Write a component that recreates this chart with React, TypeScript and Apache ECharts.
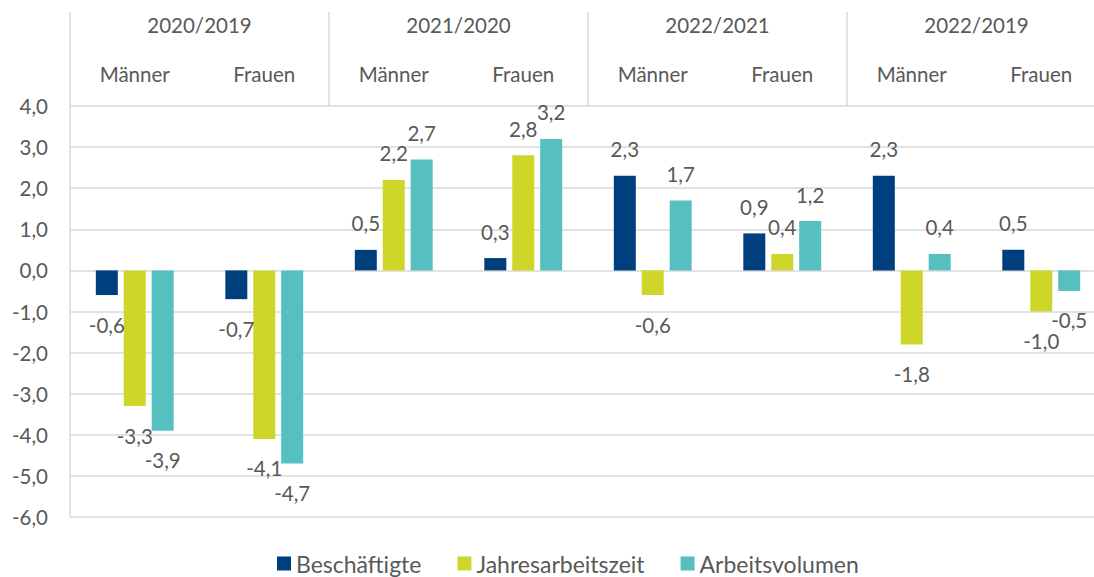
import React, { useEffect, useRef } from "react";
import * as echarts from "echarts";

const groups = ["2020/2019", "2021/2020", "2022/2021", "2022/2019"];
const sexes = ["Männer", "Frauen"];
const categories = groups.flatMap((g) => sexes.map((s) => g + "|" + s));

const beschaeftigte = [-0.6, -0.7, 0.5, 0.3, 2.3, 0.9, 2.3, 0.5];
const jahresarbeitszeit = [-3.3, -4.1, 2.2, 2.8, -0.6, 0.4, -1.8, -1.0];
const arbeitsvolumen = [-3.9, -4.7, 2.7, 3.2, 1.7, 1.2, 0.4, -0.5];

const yTicks = { min: -6, max: 4, interval: 1 };

const seriesNames = ["Beschäftigte", "Jahresarbeitszeit", "Arbeitsvolumen"];
const colors = ["#003f7d", "#cfd62a", "#56bfc0"];

const FONT = "Lato, 'Noto Sans', sans-serif";
const TEXT = "#595959";
const GRID = "#d9d9d9";
const FS = 20.5;

const fmt = (v: number) => v.toFixed(1).replace(".", ",");

export default function App() {
  const ref = useRef<HTMLDivElement>(null);
  useEffect(() => {
    document.body.style.margin = "0";
    const chart = echarts.init(ref.current!, null, { renderer: "svg" });
    const build = (vals: number[]) =>
      vals.map((v) => ({
        value: v,
        label: {
          position: v < 0 ? "bottom" : "top",
          distance: v < 0 ? 19 : 16,
        },
      }));
    const all = [beschaeftigte, jahresarbeitszeit, arbeitsvolumen];
    chart.setOption({
      animation: false,
      textStyle: { fontFamily: FONT },
      grid: {
        left: 70,
        top: 106,
        bottom: 60,
        width: 1036,
        outerBoundsMode: "none",
      },
      legend: {
        top: 547,
        left: 272,
        itemWidth: 14,
        itemHeight: 14,
        itemGap: 36,
        icon: "rect",
        textStyle: { color: TEXT, fontSize: 23, fontFamily: FONT },
        data: seriesNames,
      },
      xAxis: [
        {
          type: "category",
          position: "top",
          data: categories,
          axisLine: { show: false },
          axisTick: { show: false },
          axisLabel: {
            color: TEXT,
            fontSize: FS,
            margin: 22,
            interval: 0,
            formatter: (v: string) => v.split("|")[1],
          },
        },
        {
          type: "category",
          position: "top",
          data: groups,
          axisLine: { show: false },
          axisTick: {
            show: true,
            interval: 0,
            length: 94,
            lineStyle: { color: GRID, width: 1.5 },
          },
          axisLabel: { color: TEXT, fontSize: FS, margin: 71, interval: 0 },
          splitLine: {
            show: true,
            interval: (idx: number) => idx === 3,
            lineStyle: { color: GRID, width: 1.5 },
          },
        },
      ],
      yAxis: {
        type: "value",
        min: yTicks.min,
        max: yTicks.max,
        interval: yTicks.interval,
        axisLine: { show: false },
        axisTick: { show: false },
        axisLabel: {
          color: TEXT,
          fontSize: FS,
          margin: 22,
          formatter: (v: number) => fmt(v),
        },
        splitLine: { lineStyle: { color: GRID, width: 1.5 } },
      },
      series: all.map((vals, si) => ({
        name: seriesNames[si],
        type: "bar",
        xAxisIndex: 0,
        barWidth: 22,
        barGap: "27%",
        itemStyle: { color: colors[si] },
        label: {
          show: true,
          color: TEXT,
          fontSize: FS,
          fontFamily: FONT,
          formatter: (p: any) => fmt(p.value),
        },
        data: build(vals),
      })),
    });
    return () => chart.dispose();
  }, []);
  return <div ref={ref} style={{ width: 1094, height: 577 }} />;
}
